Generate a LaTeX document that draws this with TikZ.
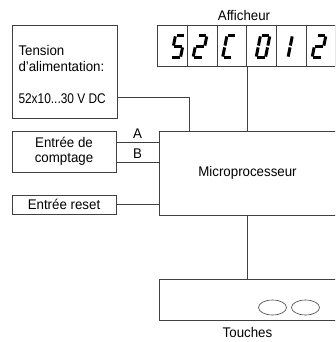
\documentclass[tikz,border=0pt]{standalone}
\usepackage{fontspec}
\setmainfont{Liberation Sans}[FakeStretch=0.95]
\newfontfamily\narrowfont{Liberation Sans}[FakeStretch=0.85]
\usetikzlibrary{positioning,shapes.geometric}

\tikzset{
    pics/digit/.style={code={
        \coordinate (a1) at (-3.7,-11); \coordinate (a2) at (3.7,-11);
        \coordinate (b1) at (4.7,-10.1); \coordinate (b2) at (4.7,-0.9);
        \coordinate (c1) at (4.7,0.9);   \coordinate (c2) at (4.7,10.1);
        \coordinate (d1) at (-3.7,11);  \coordinate (d2) at (3.7,11);
        \coordinate (e1) at (-4.7,0.9);  \coordinate (e2) at (-4.7,10.1);
        \coordinate (f1) at (-4.7,-10.1); \coordinate (f2) at (-4.7,-0.9);
        \coordinate (g1) at (-3.7,0);    \coordinate (g2) at (3.7,0);
        \foreach \s in {#1} \draw[seg] (\s1) -- (\s2);
    }}
}

\begin{document}
\begin{tikzpicture}[
    x=1pt,y=-1pt,
    every node/.style={font=\fontsize{14}{15.5}\selectfont,text=black},
    block/.style={rectangle,draw=black!75,line width=0.8pt,inner sep=0pt},
    cell/.style={rectangle,draw=black!75,line width=0.8pt,minimum width=29.7pt,minimum height=41pt,inner sep=0pt},
    key/.style={ellipse,draw=black!75,line width=0.6pt,minimum width=28pt,minimum height=15pt,inner sep=0pt},
    wire/.style={draw=black!75,line width=0.8pt},
    seg/.style={draw=black,line width=3pt},
    tag/.style={inner sep=3.5pt}
]
\useasboundingbox (0,0) rectangle (335,342);
\clip (0,0) rectangle (335,342);

% Power supply
\node[block,minimum width=105pt,minimum height=93pt] (tension) at (64.5,71.5) {};
\node[align=left,anchor=north west,inner sep=0pt] (tensionlbl) at (18.3,45.5)
    {Tension\\d'alimentation:\\[17pt]{\narrowfont 52x10...30 V DC}};

% Inputs
\node[block,minimum width=104pt,minimum height=41pt,align=center] (count) at (64,151.5) {Entr\'ee de\\comptage};
\node[block,minimum width=104pt,minimum height=19pt] (reset) at (64,204.5) {Entr\'ee reset};

% Microprocessor
\node[block,minimum width=177pt,minimum height=84pt] (micro) at (247.5,173) {Microprocesseur};

% Display
\node[cell] (c1) at (172.35,45.5) {};
\node[cell] (c2) at (202.05,45.5) {};
\node[cell] (c3) at (231.75,45.5) {};
\node[cell] (c4) at (261.45,45.5) {};
\node[cell] (c5) at (291.15,45.5) {};
\node[cell] (c6) at (320.85,45.5) {};
\node (disp) at (244,15) {Afficheur};

\pic[xslant=0.2] at (178,46.5) {digit={a,f,g,c,d}};
\pic[xslant=0.2] at (200,46.5) {digit={a,b,g,e,d}};
\pic[xslant=0.2] at (229.5,46.5) {digit={a,f,e,d}};
\pic[xslant=0.2] at (263,46.5) {digit={a,b,c,d,e,f}};
\pic[xslant=0.2] at (285.5,46.5) {digit={b,c}};
\pic[xslant=0.2] at (319,46.5) {digit={a,b,g,e,d}};

% Keypad
\node[block,minimum width=177pt,minimum height=41.5pt] (keys) at (247.5,300) {};
\node[key] (k1) at (272.5,307.5) {};
\node[key] (k2) at (305.5,307.5) {};
\node[below=3pt of keys] (keyslbl) {Touches};

% Connections
\draw[wire] ([yshift=-25.5pt]tension.east) -| ([xshift=-58.5pt]micro.north);
\draw[wire] (c3.south east) -- (c3.south east |- micro.north);
\draw[wire] ([yshift=9.5pt]count.east) -- ([yshift=9.5pt]count.east -| micro.west)
    node[midway,above,tag] {A};
\draw[wire] ([yshift=-10.5pt]count.east) -- ([yshift=-10.5pt]count.east -| micro.west)
    node[midway,above,tag] {B};
\draw[wire] (reset.east) -- (reset.east -| micro.west);
\draw[wire] (micro.south) -- (keys.north);
\end{tikzpicture}
\end{document}
